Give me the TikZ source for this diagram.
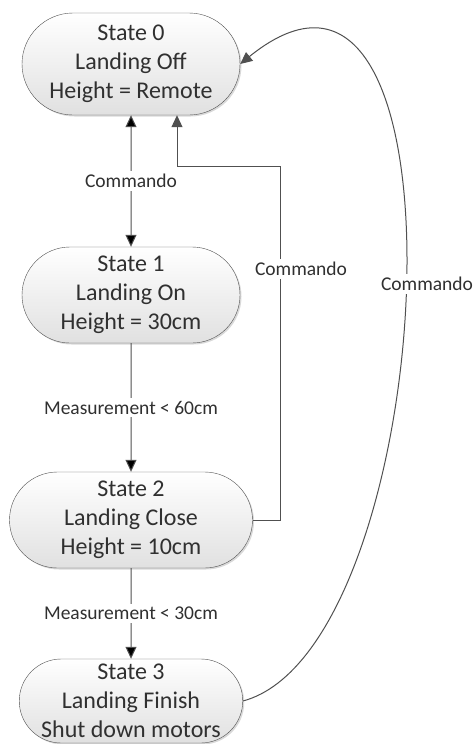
\documentclass[tikz,border=0pt]{standalone}
\usepackage{fontspec}
\setmainfont{Carlito}
\usetikzlibrary{shapes.misc,arrows.meta,shadows}
\definecolor{linegray}{HTML}{505050}
\definecolor{textgray}{HTML}{303030}
\begin{document}
\begin{tikzpicture}[x=1pt,y=-1pt,
  >={Triangle[length=12pt,width=11pt]},
  state node/.style={rounded rectangle,draw=linegray,top color=white,bottom color=black!12,
    drop shadow={opacity=0.3,shadow xshift=1.5pt,shadow yshift=-1.5pt},align=center,text=textgray,
    font=\fontsize{24}{29}\selectfont,inner sep=0pt,minimum width=218pt,minimum height=96pt},
  cond/.style={fill=white,text=textgray,font=\fontsize{19.5}{22}\selectfont,inner sep=3pt},
  arr/.style={draw=linegray,line width=1pt}]

  \useasboundingbox (0,0) rectangle (476,744);

  \node[state node,minimum height=102pt] (0) at (131,64) {State 0\\Landing Off\\Height = Remote};
  \node[state node] (1) at (131,295) {State 1\\Landing On\\Height = 30cm};
  \node[state node,minimum width=243pt] (2) at (131,520) {State 2\\Landing Close\\Height = 10cm};
  \node[state node,minimum height=84pt] (3) at (131,701) {State 3\\Landing Finish\\Shut down motors};

  \path[arr,every node/.style=cond]
   (0) edge[<->] node{Commando} (1)
   (1) edge[->] node{Measurement < 60cm} (2)
   (2) edge[->] node{Measurement < 30cm} (3);

  \coordinate (turn) at (280,166);
  \draw[arr,->] (2.east) -| (turn) -| ([xshift=46pt]0.south);
  \node[cond] (cmd2) at (301,269) {Commando};

  \draw[arr,->] (3.east) .. controls (440,648) and (480,-130) .. (0.east);
  \node[cond] (cmd3) at (427,284) {Commando};
\end{tikzpicture}
\end{document}
